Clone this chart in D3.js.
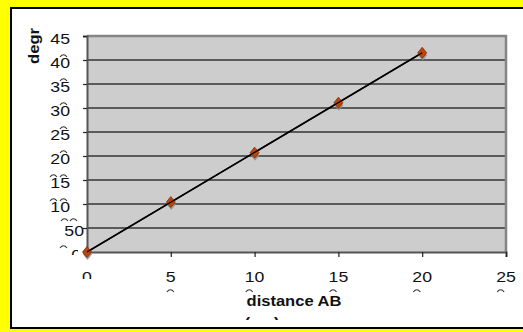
<!DOCTYPE html>
<html><head><meta charset="utf-8">
<script src="https://cdn.jsdelivr.net/npm/d3@7"></script>
<style>
html,body{margin:0;padding:0;background:#ffff00;}
svg{display:block;}
text{font-family:"Liberation Sans",Arial,sans-serif;}
</style></head>
<body>
<script>
// ---- data ----
const xValues = [0, 5, 10, 15, 20];
const yValues = [0, 10.4, 20.7, 31.1, 41.5];
const trendX = [0, 20];
const trendY = [0, 41.5];
const xTicks = [0, 5, 10, 15, 20, 25];
const xTickLabels = ["0", "5", "10", "15", "20", "25"];
const yTicks = [0, 5, 10, 15, 20, 25, 30, 35, 40, 45];
const yTickLabels = ["0", "50", "10", "15", "20", "25", "30", "35", "40", "45"];
const xTitle = ["distance AB", "(cm)"];
const yTitle = "degr";

const W = 523, H = 332;
const svg = d3.select("body").append("svg").attr("width", W).attr("height", H);
const defs = svg.append("defs");
let clipId = 0;
function clipRect(x, y, w, h) {
  const id = "c" + (clipId++);
  defs.append("clipPath").attr("id", id).append("rect").attr("x", x).attr("y", y).attr("width", w).attr("height", h);
  return "url(#" + id + ")";
}

// background frame
svg.append("rect").attr("width", W).attr("height", H).attr("fill", "#ffff00");
svg.append("rect").attr("x", 11).attr("y", 8).attr("width", 540).attr("height", 320)
  .attr("fill", "#fff").attr("stroke", "#000").attr("stroke-width", 2);

const x = d3.scaleLinear().domain([0, 25]).range([87, 506]);
const y = d3.scaleLinear().domain([0, 45]).range([252, 36]);

// plot area
svg.append("rect").attr("x", x(0)).attr("y", y(45)).attr("width", x(25) - x(0)).attr("height", y(0) - y(45))
  .attr("fill", "#cdcdcd");

// gridlines
svg.append("g").selectAll("line").data(yTicks.filter(d => d > 0)).join("line")
  .attr("x1", x(0)).attr("x2", x(25)).attr("y1", d => y(d)).attr("y2", d => y(d))
  .attr("stroke", "#333").attr("stroke-width", 1.3);

// plot border top/right
svg.append("path").attr("d", `M${x(0)},${y(45)}H${x(25)}V${y(0)}`)
  .attr("fill", "none").attr("stroke", "#858585").attr("stroke-width", 2.5);

// axes
const yAxis = d3.axisLeft(y).tickValues(yTicks).tickSize(4).tickFormat("");
const gy = svg.append("g").attr("transform", `translate(${x(0)},0)`).call(yAxis);
gy.select(".domain").attr("stroke", "#555").attr("stroke-width", 2);
gy.selectAll(".tick line").attr("stroke", "#222").attr("stroke-width", 1.2);

const xAxis = d3.axisBottom(x).tickValues(xTicks).tickSize(5).tickFormat("");
const gx = svg.append("g").attr("transform", `translate(0,${y(0)})`).call(xAxis);
gx.select(".domain").attr("stroke", "#555").attr("stroke-width", 2);
gx.selectAll(".tick line").attr("stroke", "#222").attr("stroke-width", 1.2);

const STRETCH = 1.18;
function stretch(sel) {
  sel.each(function () {
    const l = this.getComputedTextLength();
    d3.select(this).attr("textLength", l * STRETCH).attr("lengthAdjust", "spacingAndGlyphs");
  });
}

// y tick labels
const yLab = svg.append("g").attr("font-size", 15).attr("fill", "#111");
yTicks.forEach((v, i) => {
  let xr = 70, cp = null;
  if (i === 1) xr = 84;
  if (i === 0) { xr = 81; cp = clipRect(40, 240, 38, 15); }
  const t = yLab.append("text").attr("x", xr).attr("y", y(v) + 7.5)
    .attr("text-anchor", "end").text(yTickLabels[i]);
  if (cp) t.attr("clip-path", cp);
});
stretch(yLab.selectAll("text"));

// clipped rendering artifacts (tops of hidden label lines) drawn as small arcs
const art = svg.append("g").attr("fill", "none").attr("stroke", "#333").attr("stroke-width", 1.1);
function arc(xl, top) {
  art.append("path").attr("d", `M${xl},${top + 3}Q${xl + 3.5},${top - 1.5} ${xl + 7},${top + 3}`);
}
[10, 15].forEach(v => { arc(50, y(v) - 6); arc(60, y(v) - 6); });
[20, 25, 30, 35, 40].forEach(v => arc(60, y(v) - 6));
arc(61, y(5) - 10); arc(70, y(5) - 10);
arc(60, y(0) - 7);
xTicks.forEach((v, i) => {
  if (i === 0) return;
  const left = x(v) - (xTickLabels[i].length * 8.34 * STRETCH) / 2 + 1;
  arc(left, 289);
});

// x tick labels
const xLab = svg.append("g").attr("font-size", 15).attr("fill", "#111");
xTicks.forEach((v, i) => {
  const t = xLab.append("text").attr("x", x(v)).attr("y", 282).attr("text-anchor", "middle").text(xTickLabels[i]);
  if (i === 0) t.attr("clip-path", clipRect(70, 260, 40, 19));
});
stretch(xLab.selectAll("text"));

// axis titles
const xt = svg.append("g").attr("font-size", 14).attr("font-weight", "bold").attr("fill", "#111")
  .attr("clip-path", clipRect(0, 0, W, 320));
xt.append("text").attr("x", 294).attr("y", 306).attr("text-anchor", "middle").text(xTitle[0]);
xt.append("text").attr("x", 262).attr("y", 328).attr("text-anchor", "middle").text(xTitle[1]);
stretch(xt.selectAll("text"));

const yt = svg.append("text").attr("transform", "translate(39,46) rotate(-90)")
  .attr("font-size", 14).attr("font-weight", "bold").attr("fill", "#111")
  .attr("text-anchor", "middle").text(yTitle);
stretch(yt);

// trendline
const trend = () => svg.append("line").attr("x1", x(trendX[0])).attr("y1", y(trendY[0]))
  .attr("x2", x(trendX[1])).attr("y2", y(trendY[1])).attr("stroke", "#000");
trend().attr("stroke-width", 1.6);

// markers: shadow + diamond
const pts = xValues.map((d, i) => [x(d), y(yValues[i])]);
const diamond = "M0,-5.5L4.5,0L0,5.5L-4.5,0Z";
svg.append("g").selectAll("path").data(pts).join("path")
  .attr("d", diamond).attr("transform", d => `translate(${d[0] + 0.5},${d[1] + 2.5})`)
  .attr("fill", "#8c8c8c").attr("opacity", 0.85);
svg.append("g").selectAll("path").data(pts).join("path")
  .attr("d", diamond).attr("transform", d => `translate(${d[0]},${d[1]})`)
  .attr("fill", "#b8460f").attr("stroke", "#8a2e00").attr("stroke-width", 0.8);
trend().attr("stroke-width", 1.3);
</script>
</body></html>
